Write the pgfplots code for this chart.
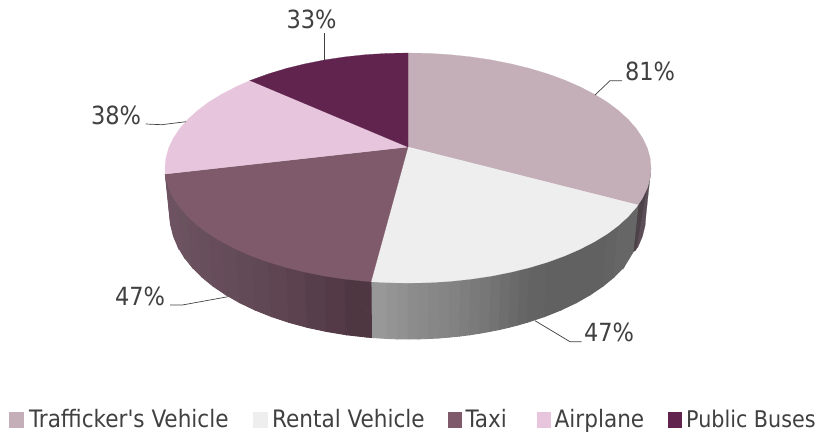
\documentclass[border=0pt]{standalone}
\usepackage{fontspec}
\newfontfamily\lf{DejaVu Sans Condensed}
\usepackage{pgfplots}
\pgfplotsset{compat=1.18}
\definecolor{traf}{HTML}{C4AFB8}
\definecolor{rent}{HTML}{EEEEEE}
\definecolor{taxi}{HTML}{7E5A6A}
\definecolor{airp}{HTML}{E7C6DD}
\definecolor{pubb}{HTML}{60244E}
\definecolor{txt}{HTML}{404040}
\definecolor{ta}{HTML}{6D5361}
\definecolor{tb}{HTML}{4F3742}
\definecolor{sa}{HTML}{5C4E56}
\definecolor{sb}{HTML}{4E4249}
\pgfplotsset{s/.style={fill=#1,draw=#1,line width=0.9pt,mark=none},
  f/.style={fill=#1,draw=#1,line width=0.2pt,mark=none},
  lead/.style={draw=txt,line width=0.7pt,mark=none}}
\tikzset{lab/.style={text=txt,font=\lf\fontsize{25bp}{29bp}\selectfont,inner sep=0pt,anchor=base},
  leg/.style={text=txt,font=\lf\fontsize{24bp}{28bp}\selectfont,inner sep=0pt,anchor=base west}}
\begin{document}
\begin{tikzpicture}
\begin{axis}[scale only axis,width=818bp,height=434bp,xmin=0,xmax=818,ymin=0,ymax=434,
  y dir=reverse,hide axis,clip=false]
\addplot[draw=none,mark=none] coordinates {(0,0)(818,434)};
\path (axis cs:0,0) rectangle (axis cs:818,434);
% Trafficker side sliver
\addplot[f=sa] coordinates {(651,168)(650.1,178)(647.3,188)(642.7,197.8)(638,205)(633,252)(637.9,247.1)(642.4,236.5)(645.1,225.8)(646,215)} -- cycle;
\addplot[f=sb] coordinates {(646.7,188)(642.7,197.8)(638,205)(633,252)(636,250)} -- cycle;
% Rental side strips
\addplot[s={black!40.5}] coordinates {(371,281.7)(386.8,282.6)(387.2,338.5)(371.5,337.5)} -- cycle;
\addplot[s={black!42}] coordinates {(386.8,282.6)(397.4,282.9)(397.6,338.9)(387.2,338.5)} -- cycle;
\addplot[s={black!43}] coordinates {(397.4,282.9)(408,283)(408,339)(397.6,338.9)} -- cycle;
\addplot[s={black!45}] coordinates {(408,283)(418.6,282.9)(418.4,338.9)(408,339)} -- cycle;
\addplot[s={black!46}] coordinates {(418.6,282.9)(429.2,282.6)(428.8,338.5)(418.4,338.9)} -- cycle;
\addplot[s={black!47}] coordinates {(429.2,282.6)(439.7,282.1)(439.1,338)(428.8,338.5)} -- cycle;
\addplot[s={black!48}] coordinates {(439.7,282.1)(450.2,281.3)(449.3,337.1)(439.1,338)} -- cycle;
\addplot[s={black!49}] coordinates {(450.2,281.3)(460.6,280.3)(459.5,336.1)(449.3,337.1)} -- cycle;
\addplot[s={black!50.5}] coordinates {(460.6,280.3)(470.9,279.1)(469.6,334.8)(459.5,336.1)} -- cycle;
\addplot[s={black!52}] coordinates {(470.9,279.1)(481,277.7)(479.5,333.3)(469.6,334.8)} -- cycle;
\addplot[s={black!53.5}] coordinates {(481,277.7)(491.1,276.1)(489.4,331.5)(479.5,333.3)} -- cycle;
\addplot[s={black!55}] coordinates {(491.1,276.1)(500.9,274.3)(499,329.6)(489.4,331.5)} -- cycle;
\addplot[s={black!57}] coordinates {(500.9,274.3)(510.7,272.2)(508.6,327.4)(499,329.6)} -- cycle;
\addplot[s={black!58.5}] coordinates {(510.7,272.2)(520.1,270)(517.8,325)(508.6,327.4)} -- cycle;
\addplot[s={black!60}] coordinates {(520.1,270)(529.5,267.6)(527,322.4)(517.8,325)} -- cycle;
\addplot[s={black!61}] coordinates {(529.5,267.6)(547.4,262.2)(544.5,316.6)(527,322.4)} -- cycle;
\addplot[s={black!62}] coordinates {(547.4,262.2)(564.2,256.1)(561,310)(544.5,316.6)} -- cycle;
\addplot[s={black!62}] coordinates {(564.2,256.1)(579.8,249.3)(576.3,302.7)(561,310)} -- cycle;
\addplot[s={black!62}] coordinates {(579.8,249.3)(594.1,241.9)(590.3,294.7)(576.3,302.7)} -- cycle;
\addplot[s={black!62}] coordinates {(594.1,241.9)(607.1,234)(603,286.1)(590.3,294.7)} -- cycle;
\addplot[s={black!61}] coordinates {(607.1,234)(618.4,225.5)(614.1,277)(603,286.1)} -- cycle;
\addplot[s={black!60}] coordinates {(618.4,225.5)(628.2,216.6)(623.7,267.4)(614.1,277)} -- cycle;
\addplot[s={black!60}] coordinates {(628.2,216.6)(638,205)(633,252)(623.7,267.4)} -- cycle;
% Taxi side strips
\addplot[s={ta}] coordinates {(165.9,178)(165.3,174)(170.2,221.5)(170.9,225.8)} -- cycle;
\addplot[s={ta}] coordinates {(168.7,188)(165.9,178)(170.9,225.8)(173.6,236.5)} -- cycle;
\addplot[s={ta}] coordinates {(173.3,197.8)(168.7,188)(173.6,236.5)(178.1,247.1)} -- cycle;
\addplot[s={ta}] coordinates {(179.7,207.3)(173.3,197.8)(178.1,247.1)(184.4,257.4)} -- cycle;
\addplot[s={ta!95!tb}] coordinates {(187.8,216.6)(179.7,207.3)(184.4,257.4)(192.3,267.4)} -- cycle;
\addplot[s={ta!90!tb}] coordinates {(197.6,225.5)(187.8,216.6)(192.3,267.4)(201.9,277)} -- cycle;
\addplot[s={ta!85!tb}] coordinates {(208.9,234)(197.6,225.5)(201.9,277)(213,286.1)} -- cycle;
\addplot[s={ta!80!tb}] coordinates {(221.9,241.9)(208.9,234)(213,286.1)(225.7,294.7)} -- cycle;
\addplot[s={ta!75!tb}] coordinates {(236.2,249.3)(221.9,241.9)(225.7,294.7)(239.7,302.7)} -- cycle;
\addplot[s={ta!68!tb}] coordinates {(251.8,256.1)(236.2,249.3)(239.7,302.7)(255,310)} -- cycle;
\addplot[s={ta!60!tb}] coordinates {(268.6,262.2)(251.8,256.1)(255,310)(271.5,316.6)} -- cycle;
\addplot[s={ta!50!tb}] coordinates {(286.5,267.6)(268.6,262.2)(271.5,316.6)(289,322.4)} -- cycle;
\addplot[s={ta!40!tb}] coordinates {(305.3,272.2)(286.5,267.6)(289,322.4)(307.4,327.4)} -- cycle;
\addplot[s={ta!25!tb}] coordinates {(324.9,276.1)(305.3,272.2)(307.4,327.4)(326.6,331.5)} -- cycle;
\addplot[s={ta!12!tb}] coordinates {(345.1,279.1)(324.9,276.1)(326.6,331.5)(346.4,334.8)} -- cycle;
\addplot[s={tb}] coordinates {(365.8,281.3)(345.1,279.1)(346.4,334.8)(366.7,337.1)} -- cycle;
\addplot[s={tb}] coordinates {(371,281.7)(365.8,281.3)(366.7,337.1)(371.5,337.5)} -- cycle;
% Top faces
\addplot[f=traf] coordinates {(408,147)(408,53)(429.2,53.4)(450.2,54.7)(470.9,56.9)(491.1,59.9)(510.7,63.8)(529.5,68.4)(547.4,73.8)(564.2,79.9)(579.8,86.7)(594.1,94.1)(607.1,102)(618.4,110.5)(628.2,119.4)(636.3,128.7)(642.7,138.2)(647.3,148)(650.1,158)(651,168)(650.1,178)(647.3,188)(642.7,197.8)(638,205)} -- cycle;
\addplot[f=rent] coordinates {(408,147)(638,205)(636.3,207.3)(628.2,216.6)(618.4,225.5)(607.1,234)(594.1,241.9)(579.8,249.3)(564.2,256.1)(547.4,262.2)(529.5,267.6)(510.7,272.2)(491.1,276.1)(470.9,279.1)(450.2,281.3)(429.2,282.6)(408,283)(386.8,282.6)(371,281.7)} -- cycle;
\addplot[f=taxi] coordinates {(408,147)(371,281.7)(365.8,281.3)(345.1,279.1)(324.9,276.1)(305.3,272.2)(286.5,267.6)(268.6,262.2)(251.8,256.1)(236.2,249.3)(221.9,241.9)(208.9,234)(197.6,225.5)(187.8,216.6)(179.7,207.3)(173.3,197.8)(168.7,188)(165.9,178)(165.3,174)} -- cycle;
\addplot[f=airp] coordinates {(408,147)(165.3,174)(165,168)(165.9,158)(168.7,148)(173.3,138.2)(179.7,128.7)(187.8,119.4)(197.6,110.5)(208.9,102)(221.9,94.1)(236.2,86.7)(250,80.5)} -- cycle;
\addplot[f=pubb] coordinates {(408,147)(250,80.5)(251.8,79.9)(268.6,73.8)(286.5,68.4)(305.3,63.8)(324.9,59.9)(345.1,56.9)(365.8,54.7)(386.8,53.4)(408,53)} -- cycle;
% Leader lines
\addplot[lead] coordinates {(324,33)(324,60.5)};
\addplot[lead] coordinates {(145.7,124)(161.7,124.7)(186,121.7)};
\addplot[lead] coordinates {(595,95)(610,80.7)(622,80.7)};
\addplot[lead] coordinates {(170,305)(182.3,305)(228,296.7)};
\addplot[lead] coordinates {(535,320.7)(570,341.7)(581.7,341.7)};
% Legend keys
\addplot[f=traf] coordinates {(9.5,412.5)(23.5,412.5)(23.5,427)(9.5,427)} -- cycle;
\addplot[f=rent] coordinates {(252.6,412.5)(266.7,412.5)(266.7,427)(252.6,427)} -- cycle;
\addplot[f=taxi] coordinates {(447.7,412.5)(461.3,412.5)(461.3,427)(447.7,427)} -- cycle;
\addplot[f=airp] coordinates {(537,412.5)(550.5,412.5)(550.5,427)(537,427)} -- cycle;
\addplot[f=pubb] coordinates {(668,412.5)(681.5,412.5)(681.5,427)(668,427)} -- cycle;
% Text
\node[lab] at (axis cs:311.5,28.3) {33\%};
\node[lab] at (axis cs:116,124) {38\%};
\node[lab] at (axis cs:650,81) {81\%};
\node[lab] at (axis cs:140,305) {47\%};
\node[lab] at (axis cs:609,341.7) {47\%};
\node[leg] at (axis cs:29,427) {Trafficker's Vehicle};
\node[leg] at (axis cs:272,427) {Rental Vehicle};
\node[leg] at (axis cs:465.5,427) {Taxi};
\node[leg] at (axis cs:554.5,427) {Airplane};
\node[leg,font=\lf\fontsize{23bp}{27bp}\selectfont] at (axis cs:686,427) {Public Buses};
\end{axis}
\end{tikzpicture}
\end{document}
